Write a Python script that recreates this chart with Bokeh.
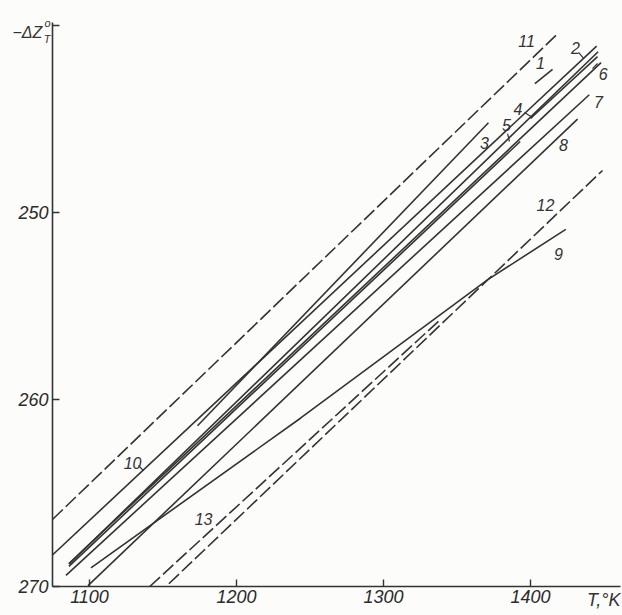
from bokeh.plotting import figure
from bokeh.models import Range1d, FixedTicker, Label
from bokeh.core.properties import value
from bokeh.embed import file_html
from bokeh.resources import INLINE

# ---- data (T in K, -dZ in kcal) ----
l1_T = [1403, 1415];               l1_Z = [243.1, 242.35]
l2_T = [1086, 1446];               l2_Z = [268.8, 241.4]
l3_T = [1173.5, 1371.4];           l3_Z = [261.4, 245.2]
l4_T = [1400, 1445.6];             l4_Z = [244.97, 241.66]
l5_T = [1086, 1393];               l5_Z = [268.92, 246.2]
l6_T = [1086, 1448];               l6_Z = [268.77, 241.98]
l7_T = [1084, 1440];               l7_Z = [269.4, 243.7]
l8_T = [1099, 1432];               l8_Z = [269.95, 245.0]
l9_T = [1101, 1243.5, 1370.7, 1424]; l9_Z = [269.0, 261.0, 253.6, 250.9]
l10_T = [1075, 1445];              l10_Z = [268.3, 241.1]
l11_T = [1075, 1419];              l11_Z = [266.4, 240.4]
l12_T = [1154, 1449];              l12_Z = [269.85, 247.75]
l13_T = [1141, 1339];              l13_Z = [270.0, 255.7]

solid = [(l1_T, l1_Z), (l2_T, l2_Z), (l3_T, l3_Z), (l4_T, l4_Z), (l5_T, l5_Z),
         (l6_T, l6_Z), (l7_T, l7_Z), (l8_T, l8_Z), (l9_T, l9_Z), (l10_T, l10_Z)]
dashed = [(l11_T, l11_Z), (l12_T, l12_Z), (l13_T, l13_Z)]

x_ticks = [1100, 1200, 1300, 1400]
y_ticks = [240, 250, 260, 270]

curve_names = ["11", "2", "1", "6", "4", "5", "3", "7", "8", "12", "9", "10", "13"]
name_T = [1397.3, 1430.6, 1406.8, 1449.5, 1391.5, 1383.7, 1368.7, 1446.3, 1422.4, 1410.2, 1419.0, 1129.3, 1177.6]
name_Z = [240.8, 241.2, 242.0, 242.6, 244.45, 245.3, 246.3, 244.1, 246.4, 249.6, 252.2, 263.4, 266.4]

# short leader strokes from labels 10, 2, 4, 5, 6 to their curves
lead_T = [[1133.3, 1136.7], [1432.7, 1436.1], [1395.9, 1401.4], [1384.4, 1385.7], [1442.2, 1445.6]]
lead_Z = [[263.53, 263.80], [241.44, 241.76], [244.65, 244.92], [245.78, 246.20], [242.30, 242.03]]

INK = "#333333"
FONT = "Liberation Sans"

p = figure(width=622, height=615, min_border=0,
           x_range=Range1d(1039.46, 1462.59), y_range=Range1d(271.55, 238.66),
           output_backend="svg", toolbar_location=None)
p.background_fill_color = "#fcfcfa"
p.border_fill_color = "#fcfcfa"
p.outline_line_color = None
p.grid.visible = False

for ax in (p.xaxis, p.yaxis):
    ax.axis_line_color = INK
    ax.axis_line_width = 1.6
    ax.major_tick_line_color = INK
    ax.major_tick_line_width = 1.4
    ax.major_tick_in = 7
    ax.major_tick_out = 0
    ax.minor_tick_line_color = None
    ax.major_label_text_font = FONT
    ax.major_label_text_font_style = "italic"
    ax.major_label_text_font_size = "18px"
    ax.major_label_text_color = "#2b2b2b"

p.xaxis.ticker = FixedTicker(ticks=x_ticks)
p.yaxis.ticker = FixedTicker(ticks=y_ticks)
p.yaxis.major_label_overrides = {240: ""}
p.xaxis.major_label_standoff = 3
p.yaxis.major_label_standoff = 4
p.xaxis.fixed_location = 270
p.yaxis.fixed_location = 1074.8
p.xaxis.bounds = (1074.8, 1461)
p.yaxis.bounds = (239.84, 270)

for t, z in solid:
    p.line(t, z, line_color=INK, line_width=1.6)
for t, z in dashed:
    p.line(t, z, line_color=INK, line_width=1.6, line_dash="14 4")
p.multi_line(lead_T, lead_Z, line_color=INK, line_width=1.2)

p.text(x=name_T, y=name_Z, text=curve_names, text_font=value(FONT),
       text_font_style="italic", text_font_size="16px", text_color=INK,
       text_align="center", text_baseline="middle")

p.add_layout(Label(x=1047.6, y=240.37, text="\u2212\u0394Z", text_font=FONT,
                   text_font_style="italic", text_font_size="16px", text_color=INK,
                   text_baseline="alphabetic", text_align="left"))
p.add_layout(Label(x=1069.4, y=239.84, text="o", text_font=FONT,
                   text_font_style="italic", text_font_size="11px", text_color=INK,
                   text_baseline="alphabetic", text_align="left"))
p.add_layout(Label(x=1068.8, y=240.70, text="T", text_font=FONT,
                   text_font_style="italic", text_font_size="11px", text_color=INK,
                   text_baseline="alphabetic", text_align="left"))
p.add_layout(Label(x=1461.2, y=270.21, text="T,\u00b0K", text_font=FONT,
                   text_font_style="italic", text_font_size="18px", text_color=INK,
                   text_baseline="top", text_align="right"))

open("out.html", "w").write(file_html(p, INLINE))
